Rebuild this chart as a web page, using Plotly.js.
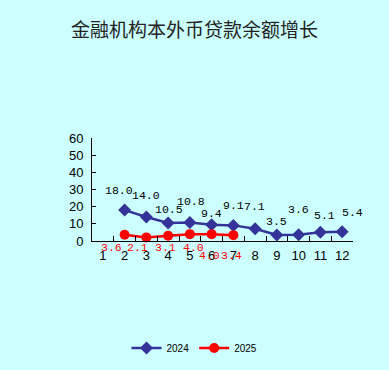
<!DOCTYPE html>
<html><head><meta charset="utf-8">
<script src="https://cdn.plot.ly/plotly-3.0.1.min.js"></script>
<style>html,body{margin:0;padding:0;background:#ccffff;}#chart{width:389px;height:370px;}</style>
</head><body><div id="chart"></div>
<script>
// ---- data ----
var months = ['1','2','3','4','5','6','7','8','9','10','11','12'];
var v2024 = [null, 18.0, 14.0, 10.5, 10.8, 9.4, 9.1, 7.1, 3.5, 3.6, 5.1, 5.4];
var v2025 = [null, 3.6, 2.1, 3.1, 4.0, 4.0, 3.4, null, null, null, null, null];
var seriesNames = ['2024', '2025'];
var titleText = '金融机构本外币贷款余额增长';

// ---- label layout offsets (pixels) ----
var lab24dx = [0, -6, 0, 1, 1, 0, 0, -1, 0, 0, 4, 10];
var lab24dy = [0, 20, 21, 13, 21, 11, 20, 22, 13, 25, 17, 19];
var lab25dx = [0, -13, -9, -3, 4, -2, -2, 0, 0, 0, 0, 0];
var lab25dy = [0, 6, 6, 6, 6, 14, 14, 0, 0, 0, 0, 0];

var traces = [
  {x: months, y: v2024, name: seriesNames[0], type: 'scatter', mode: 'lines+markers',
   line: {color: '#333399', width: 2.5}, marker: {symbol: 'diamond', size: 10, color: '#333399'},
   connectgaps: false, cliponaxis: false},
  {x: months, y: v2025, name: seriesNames[1], type: 'scatter', mode: 'lines+markers',
   line: {color: '#ff0000', width: 2.5}, marker: {symbol: 'circle', size: 10, color: '#ff0000'},
   connectgaps: false, cliponaxis: false}
];

var ann = [];
months.forEach(function(m, i){
  if (v2024[i] !== null) ann.push({x: i, y: v2024[i], xref: 'x', yref: 'y', text: v2024[i].toFixed(1),
    showarrow: false, xshift: lab24dx[i], yshift: lab24dy[i],
    font: {family: 'Liberation Mono, DejaVu Sans Mono, monospace', size: 11.5, color: '#000'}});
  if (v2025[i] !== null) ann.push({x: i, y: 0, xref: 'x', yref: 'y', text: v2025[i].toFixed(1),
    showarrow: false, xshift: lab25dx[i], yshift: -lab25dy[i], yanchor: 'middle',
    font: {family: 'Liberation Mono, DejaVu Sans Mono, monospace', size: 11.5, color: '#ff0000'}});
});

var layout = {
  width: 389, height: 370,
  paper_bgcolor: '#ccffff', plot_bgcolor: '#ccffff',
  margin: {l: 92, r: 36, t: 138, b: 129},
  title: {text: titleText, x: 0.5, xref: 'container', xanchor: 'center', y: 1 - 30/370, yref: 'container', yanchor: 'middle',
    font: {family: 'Noto Sans CJK SC', size: 19, color: '#222'}},
  xaxis: {type: 'category', range: [-0.5, 11.5], showgrid: false, zeroline: false,
    showline: true, linecolor: '#000', linewidth: 1, tickangle: 0,
    ticks: 'inside', ticklen: 5, tickcolor: '#000', tickson: 'boundaries',
    tickfont: {family: 'Liberation Sans, Arial', size: 13, color: '#000'}, ticklabelstandoff: 2},
  yaxis: {range: [0, 60], dtick: 10, tick0: 0, showgrid: false, zeroline: false,
    showline: true, linecolor: '#000', linewidth: 1,
    ticks: 'inside', ticklen: 4, tickcolor: '#000',
    tickfont: {family: 'Liberation Sans, Arial', size: 13, color: '#000'}, ticklabelstandoff: 5},
  showlegend: true,
  legend: {orientation: 'h', xref: 'container', yref: 'container', x: 0.5, xanchor: 'center',
    y: 1 - 348/370, yanchor: 'middle', bgcolor: 'rgba(0,0,0,0)',
    font: {family: 'Liberation Sans, Arial', size: 10, color: '#000'}},
  annotations: ann
};
Plotly.newPlot('chart', traces, layout, {displayModeBar: false, staticPlot: true});
</script></body></html>
